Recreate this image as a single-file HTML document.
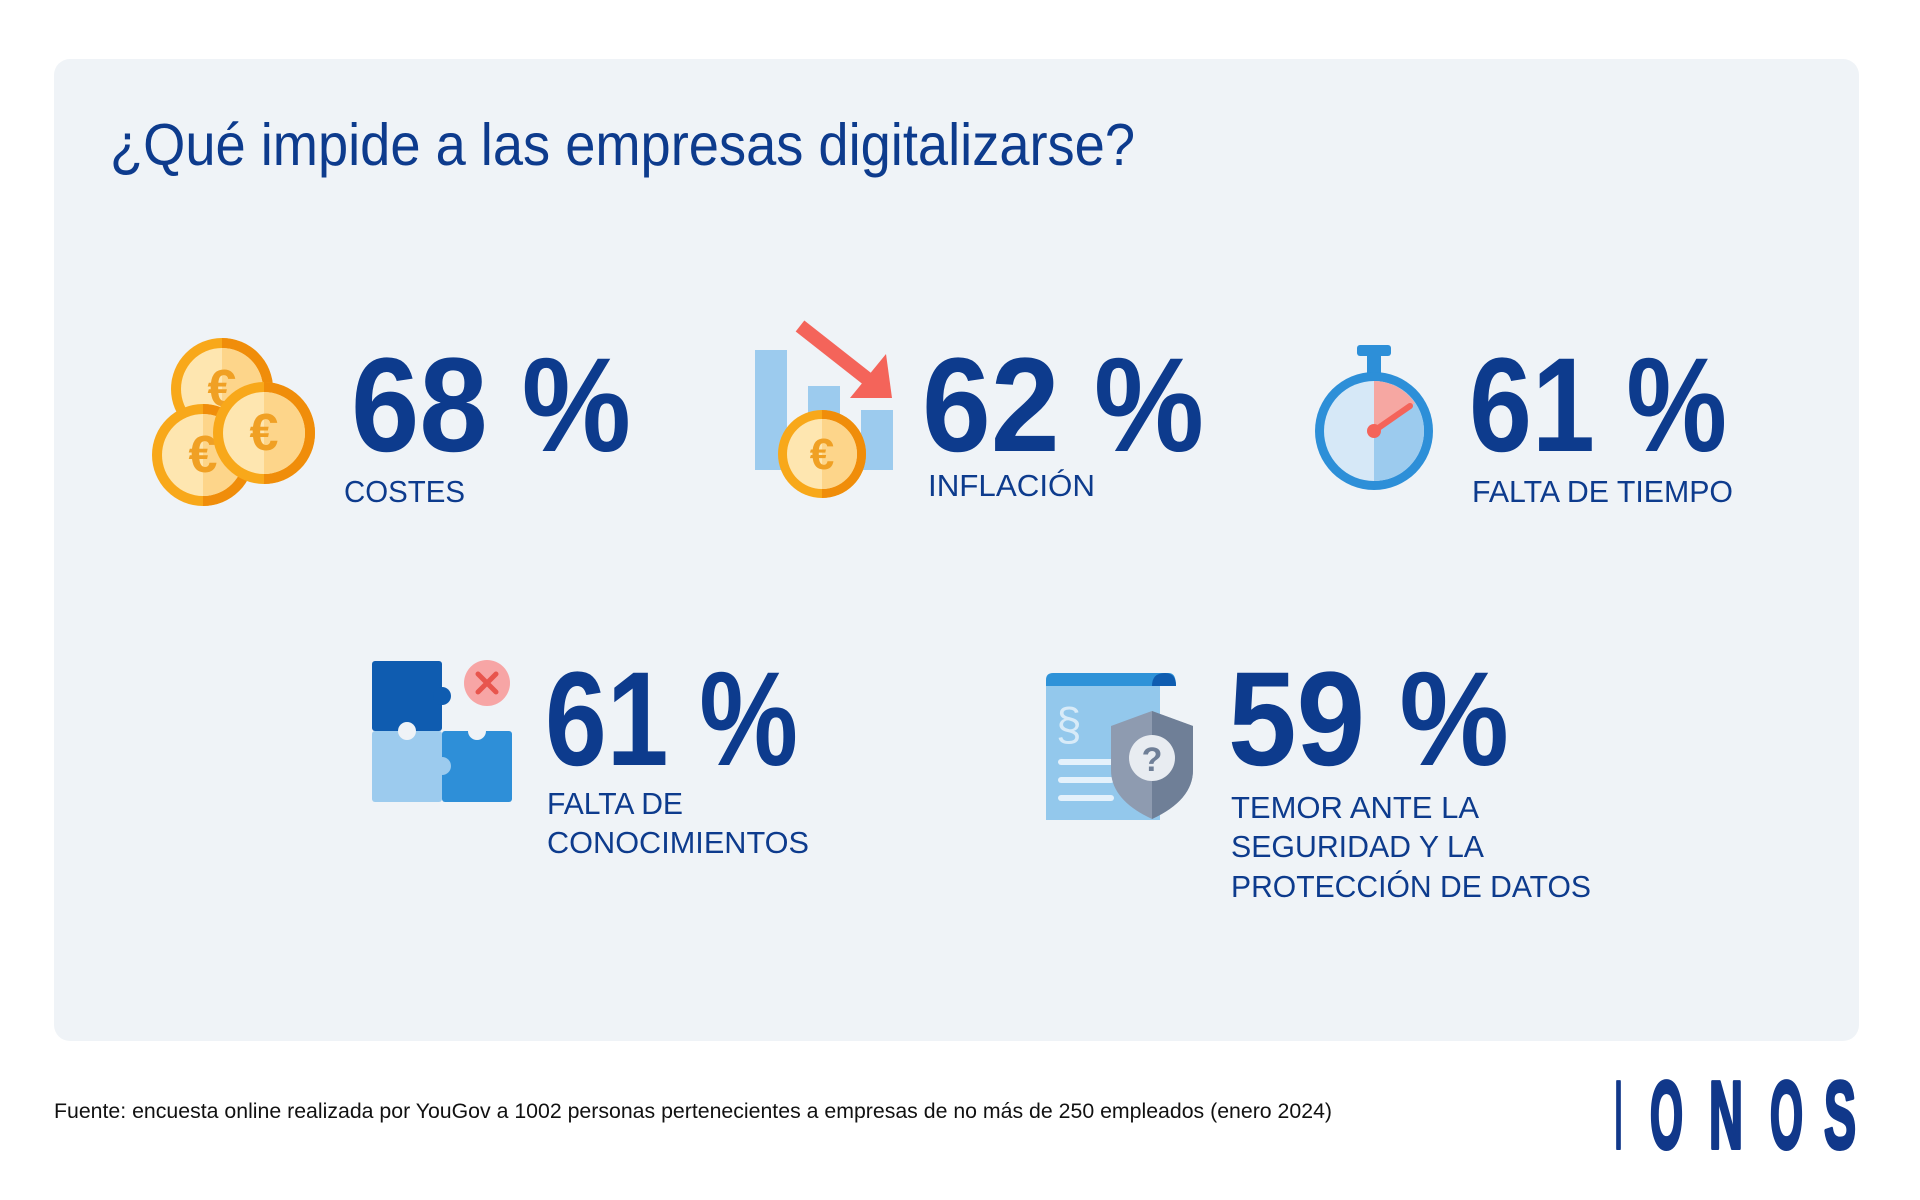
<!DOCTYPE html>
<html><head><meta charset="utf-8"><style>html,body{margin:0;padding:0;background:#fff}svg{display:block}</style></head>
<body>
<svg width="1920" height="1200" viewBox="0 0 1920 1200" xmlns="http://www.w3.org/2000/svg" font-family="'Liberation Sans', sans-serif">
<rect x="54" y="59" width="1805" height="982" rx="16" fill="#eff3f7"/>
<text x="110" y="165" font-size="59" fill="#0d3b8d" textLength="1025" lengthAdjust="spacingAndGlyphs">¿Qué impide a las empresas digitalizarse?</text>

<!-- coins -->
<g>
<g transform="translate(222,389)"><circle r="51" fill="#f8a81a"/><path d="M0,-51A51,51 0 0 1 0,51Z" fill="#f08d0a"/><circle r="41" fill="#fee6b0"/><path d="M0,-41A41,41 0 0 1 0,41Z" fill="#fdd58a"/><text y="17" text-anchor="middle" font-size="52" font-weight="bold" fill="#f0a024">€</text></g>
<g transform="translate(203,455)"><circle r="51" fill="#f8a81a"/><path d="M0,-51A51,51 0 0 1 0,51Z" fill="#f08d0a"/><circle r="41" fill="#fee6b0"/><path d="M0,-41A41,41 0 0 1 0,41Z" fill="#fdd58a"/><text y="17" text-anchor="middle" font-size="52" font-weight="bold" fill="#f0a024">€</text></g>
<g transform="translate(264,433)"><circle r="51" fill="#f8a81a"/><path d="M0,-51A51,51 0 0 1 0,51Z" fill="#f08d0a"/><circle r="41" fill="#fee6b0"/><path d="M0,-41A41,41 0 0 1 0,41Z" fill="#fdd58a"/><text y="17" text-anchor="middle" font-size="52" font-weight="bold" fill="#f0a024">€</text></g>
</g>
<text x="351" y="451" font-size="134" font-weight="bold" fill="#0d3b8d" textLength="280" lengthAdjust="spacingAndGlyphs">68 %</text>
<text x="344" y="502" font-size="31" fill="#0d3b8d" textLength="121" lengthAdjust="spacingAndGlyphs">COSTES</text>

<!-- inflation -->
<rect x="755" y="350" width="32" height="120" fill="#9ccbee"/>
<rect x="808" y="386" width="32" height="84" fill="#9ccbee"/>
<rect x="861" y="410" width="32" height="60" fill="#9ccbee"/>
<line x1="800" y1="326" x2="870" y2="381" stroke="#f4645a" stroke-width="14"/>
<polygon points="892,398 850,398 886,354" fill="#f4645a"/>
<g transform="translate(822,454)"><circle r="44" fill="#f8a81a"/><path d="M0,-44A44,44 0 0 1 0,44Z" fill="#f08d0a"/><circle r="35" fill="#fee6b0"/><path d="M0,-35A35,35 0 0 1 0,35Z" fill="#fdd58a"/><text y="15" text-anchor="middle" font-size="44" font-weight="bold" fill="#f0a024">€</text></g>
<text x="922" y="451" font-size="134" font-weight="bold" fill="#0d3b8d" textLength="282" lengthAdjust="spacingAndGlyphs">62 %</text>
<text x="928" y="496" font-size="31" fill="#0d3b8d" textLength="167" lengthAdjust="spacingAndGlyphs">INFLACIÓN</text>

<!-- stopwatch -->
<rect x="1357" y="345" width="34" height="11" rx="3" fill="#2d8fd8"/>
<rect x="1367" y="354" width="14" height="20" fill="#2d8fd8"/>
<circle cx="1374" cy="431" r="59" fill="#2d8fd8"/>
<circle cx="1374" cy="431" r="50" fill="#d6e8f7"/>
<path d="M1374,381A50,50 0 0 1 1374,481Z" fill="#9ccbee"/>
<path d="M1374,431L1374,381A50,50 0 0 1 1415,403Z" fill="#f6a7a2"/>
<line x1="1374" y1="431" x2="1410" y2="406" stroke="#f4645a" stroke-width="6" stroke-linecap="round"/>
<circle cx="1374" cy="431" r="7" fill="#f4645a"/>
<text x="1469" y="451" font-size="134" font-weight="bold" fill="#0d3b8d" textLength="258" lengthAdjust="spacingAndGlyphs">61 %</text>
<text x="1472" y="502" font-size="31" fill="#0d3b8d" textLength="261" lengthAdjust="spacingAndGlyphs">FALTA DE TIEMPO</text>

<!-- puzzle -->
<rect x="372" y="661" width="70" height="70" rx="3" fill="#0f5cb0"/>
<circle cx="442" cy="696" r="9" fill="#0f5cb0"/>
<rect x="372" y="731" width="70" height="71" rx="3" fill="#9ccbee"/>
<rect x="442" y="731" width="70" height="71" rx="3" fill="#2e8fd8"/>
<circle cx="407" cy="731" r="9" fill="#eff3f7"/>
<circle cx="477" cy="731" r="9" fill="#eff3f7"/>
<circle cx="442" cy="766" r="9" fill="#9ccbee"/>
<circle cx="487" cy="683" r="23" fill="#f7a5a5"/>
<path d="M478,674L496,692M496,674L478,692" stroke="#e8554d" stroke-width="5" stroke-linecap="round"/>
<text x="545" y="765" font-size="134" font-weight="bold" fill="#0d3b8d" textLength="253" lengthAdjust="spacingAndGlyphs">61 %</text>
<text x="547" y="814" font-size="31" fill="#0d3b8d" textLength="136" lengthAdjust="spacingAndGlyphs">FALTA DE</text>
<text x="547" y="853" font-size="31" fill="#0d3b8d" textLength="262" lengthAdjust="spacingAndGlyphs">CONOCIMIENTOS</text>

<!-- document shield -->
<rect x="1046" y="686" width="114" height="134" fill="#93c8ec"/>
<path d="M1046,686L1046,680Q1046,673 1053,673L1169,673Q1176,673 1176,686Z" fill="#2e92d8"/>
<path d="M1152,686Q1152,673 1165,673Q1176,673 1176,686Z" fill="#0f5cb0"/>
<text x="1056" y="740" font-size="46" fill="#d8ebf8">§</text>
<rect x="1058" y="759" width="56" height="6" rx="3" fill="#e4f1fb"/>
<rect x="1058" y="777" width="56" height="6" rx="3" fill="#e4f1fb"/>
<rect x="1058" y="795" width="56" height="6" rx="3" fill="#e4f1fb"/>
<path d="M1152,711L1193,726L1193,770Q1193,800 1152,819Q1111,800 1111,770L1111,726Z" fill="#8e9bb0"/>
<path d="M1152,711L1193,726L1193,770Q1193,800 1152,819Z" fill="#6f7f97"/>
<circle cx="1152" cy="758" r="23" fill="#e8ecf1"/>
<text x="1152" y="771" text-anchor="middle" font-size="34" font-weight="bold" fill="#6f7f97">?</text>
<text x="1228" y="765" font-size="134" font-weight="bold" fill="#0d3b8d" textLength="281" lengthAdjust="spacingAndGlyphs">59 %</text>
<text x="1231" y="818" font-size="31" fill="#0d3b8d" textLength="248" lengthAdjust="spacingAndGlyphs">TEMOR ANTE LA</text>
<text x="1231" y="857" font-size="31" fill="#0d3b8d" textLength="253" lengthAdjust="spacingAndGlyphs">SEGURIDAD Y LA</text>
<text x="1231" y="897" font-size="31" fill="#0d3b8d" textLength="360" lengthAdjust="spacingAndGlyphs">PROTECCIÓN DE DATOS</text>

<!-- footer -->
<text x="54" y="1118" font-size="21" fill="#111" textLength="1278" lengthAdjust="spacingAndGlyphs">Fuente: encuesta online realizada por YouGov a 1002 personas pertenecientes a empresas de no más de 250 empleados (enero 2024)</text>
<g font-size="96" font-weight="bold" fill="#11388a" stroke="#11388a" stroke-width="4" stroke-linejoin="round">
<text x="1615" y="1148" textLength="7" lengthAdjust="spacingAndGlyphs">I</text>
<text x="1650" y="1148" textLength="33" lengthAdjust="spacingAndGlyphs">O</text>
<text x="1709" y="1148" textLength="34" lengthAdjust="spacingAndGlyphs">N</text>
<text x="1770" y="1148" textLength="33" lengthAdjust="spacingAndGlyphs">O</text>
<text x="1824" y="1148" textLength="32" lengthAdjust="spacingAndGlyphs">S</text>
</g>
</svg>
</body></html>
